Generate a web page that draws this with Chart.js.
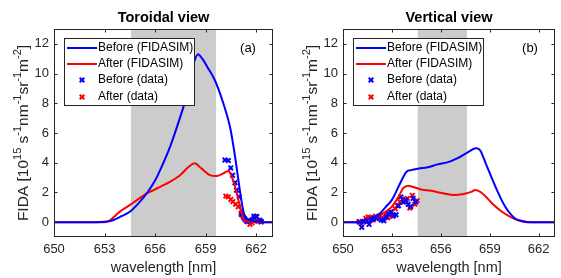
<!DOCTYPE html>
<html>
<head>
<meta charset="utf-8">
<script src="https://cdn.jsdelivr.net/npm/chart.js@4"></script>
<style>
  html, body { margin: 0; padding: 0; background: #fff; }
  #wrap { position: relative; width: 561px; height: 278px; overflow: hidden; }
  canvas { position: absolute; top: 0; }
</style>
</head>
<body>
<div id="wrap">
  <canvas id="cA" width="281" height="278" style="left:0px"></canvas>
  <canvas id="cB" width="280" height="278" style="left:281px"></canvas>
</div>
<script>
// ---------- data ----------
const seriesNames = ['Before (FIDASIM)', 'After (FIDASIM)', 'Before (data)', 'After (data)'];
const panelTitles = ['Toroidal view', 'Vertical view'];
const panelTags = ['(a)', '(b)'];
const xLabel = 'wavelength [nm]';
const xTicks = [650, 653, 656, 659, 662];
const yTicks = [0, 2, 4, 6, 8, 10, 12];
const grayBandA = [654.57, 659.62];
const grayBandB = [654.58, 657.6];

// Toroidal view (a)
const torBeforeSimWl  = [650, 652.5, 653.0, 653.5, 654.0, 654.5, 655.0, 655.5, 656.0, 656.3, 656.9, 657.5, 657.8, 658.2, 658.55, 658.8, 659.1, 659.55, 660.05, 660.45, 660.75, 660.95, 661.15, 661.3, 661.6, 662.0, 662.5, 663];
const torBeforeSimVal = [0, 0, 0.02, 0.13, 0.4, 0.7, 1.25, 1.93, 2.8, 3.5, 5.1, 7.1, 8.2, 10.3, 11.3, 11.0, 10.45, 9.55, 8.0, 6.4, 4.4, 2.8, 1.28, 0.47, 0.13, 0.05, 0, 0];
const torAfterSimWl   = [650, 653.0, 653.3, 653.6, 653.9, 654.5, 655.0, 655.5, 656.0, 656.3, 656.9, 657.5, 658.0, 658.35, 658.75, 659.25, 659.65, 660.05, 660.35, 660.55, 660.75, 660.95, 661.15, 661.35, 661.6, 662.0, 663];
const torAfterSimVal  = [0, 0, 0.1, 0.4, 0.7, 1.15, 1.55, 1.93, 2.2, 2.38, 2.72, 3.17, 3.73, 3.96, 3.62, 3.17, 3.1, 3.28, 3.44, 3.06, 2.38, 1.48, 0.6, 0.13, 0.02, 0, 0];
const torBeforeDataWl  = [660.15, 660.35, 660.49, 660.6, 660.74, 660.84, 661.0, 661.14, 661.3, 661.45, 661.6, 661.75, 661.87, 662.03, 662.2, 662.3];
const torBeforeDataVal = [4.18, 4.15, 3.65, 3.15, 2.65, 2.15, 1.7, 0.5, 0.25, 0.05, 0.1, 0.15, 0.4, 0.36, 0.1, 0.05];
const torAfterDataWl   = [660.2, 660.35, 660.5, 660.62, 660.78, 660.94, 661.1, 661.23, 661.37, 661.5, 661.63, 661.75, 661.87, 662.0, 662.1, 662.2, 662.3];
const torAfterDataVal  = [1.75, 1.7, 1.53, 1.38, 1.21, 1.03, 0.6, 0.36, 0.13, 0.02, -0.15, -0.05, 0.25, 0.4, 0.05, 0.15, 0.0];

// Vertical view (b)
const verBeforeSimWl  = [650, 651.5, 651.8, 652.2, 652.6, 653.0, 653.5, 653.9, 654.2, 654.6, 655.2, 655.8, 656.4, 657.0, 657.6, 658.15, 658.4, 658.75, 659.35, 659.95, 660.55, 661.1, 661.5, 663];
const verBeforeSimVal = [0, 0, 0.05, 0.5, 1.0, 1.5, 2.6, 3.4, 3.5, 3.6, 3.69, 3.89, 4.02, 4.29, 4.67, 4.97, 4.85, 3.96, 2.38, 1.03, 0.25, 0.05, 0, 0];
const verAfterSimWl   = [650, 651.5, 651.8, 652.2, 652.6, 653.0, 653.4, 653.7, 654.0, 654.2, 654.8, 655.4, 656.2, 656.8, 657.4, 657.9, 658.1, 658.55, 659.15, 659.75, 660.35, 660.9, 661.3, 663];
const verAfterSimVal  = [0, 0, 0.05, 0.4, 0.7, 1.05, 1.7, 2.3, 2.45, 2.4, 2.2, 2.11, 1.93, 1.83, 1.9, 2.05, 2.16, 1.93, 1.26, 0.7, 0.31, 0.08, 0, 0];
const verBeforeDataWl  = [651.0, 651.15, 651.3, 651.45, 651.6, 651.75, 651.9, 652.05, 652.2, 652.35, 652.5, 652.65, 652.8, 652.95, 653.1, 653.25, 653.4, 653.55, 653.7, 653.85, 654.0, 654.15, 654.3, 654.45];
const verBeforeDataVal = [0.0, -0.35, 0.05, 0.1, -0.15, 0.2, 0.3, 0.25, 0.35, 0.15, 0.1, 0.35, 0.55, 0.7, 0.45, 0.5, 1.1, 1.7, 1.35, 1.5, 1.2, 1.05, 1.6, 1.35];
const verAfterDataWl   = [651.0, 651.1, 651.25, 651.4, 651.55, 651.7, 651.85, 652.0, 652.15, 652.3, 652.45, 652.6, 652.75, 652.9, 653.05, 653.2, 653.35, 653.5, 653.65, 653.8, 653.95, 654.1, 654.25, 654.4, 654.55];
const verAfterDataVal  = [0.05, -0.1, 0.0, 0.25, 0.35, 0.3, 0.15, 0.4, 0.3, 0.45, 0.25, 0.5, 0.3, 0.65, 0.4, 0.9, 1.1, 1.35, 1.55, 1.4, 1.6, 0.95, 1.8, 1.2, 1.45];

// ---------- styling ----------
const FONT = "'Liberation Sans', Arial, sans-serif";
const AXC = '#262626';
const BLUE = '#0000ff';
const RED = '#ff0000';
const GRAY = '#cccccc';

const pts = (xs, ys) => xs.map((x, i) => ({ x: x, y: ys[i] }));

function lineDs(label, xs, ys, color) {
  return { label, data: pts(xs, ys), showLine: true, borderColor: color, backgroundColor: color,
           borderWidth: 2, pointRadius: 0, cubicInterpolationMode: 'monotone' };
}
function markDs(label, xs, ys, color) {
  return { label, data: pts(xs, ys), showLine: false, borderColor: color, backgroundColor: color,
           borderWidth: 2, pointStyle: 'crossRot', pointRadius: 3.2 };
}

const panelPlugin = {
  id: 'panelPlugin',
  beforeDatasetsDraw(chart) {
    const o = chart.options.plugins.panelPlugin;
    const { ctx, chartArea: a, scales: { x } } = chart;
    const x0 = x.getPixelForValue(o.band[0]), x1 = x.getPixelForValue(o.band[1]);
    ctx.save();
    ctx.fillStyle = GRAY;
    ctx.fillRect(x0, a.top, x1 - x0, a.bottom - a.top);
    ctx.restore();
  },
  afterDatasetsDraw(chart) {
    const o = chart.options.plugins.panelPlugin;
    const { ctx, chartArea: a, scales: { x, y } } = chart;
    const L = Math.round(a.left) + 0.5, R = Math.round(a.right) - 0.5;
    const T = Math.round(a.top) + 0.5, B = Math.round(a.bottom) - 0.5;
    ctx.save();
    ctx.strokeStyle = AXC;
    ctx.lineWidth = 1;
    ctx.strokeRect(L, T, R - L, B - T);
    ctx.beginPath();
    xTicks.forEach(v => {
      const px = Math.round(x.getPixelForValue(v)) + 0.5;
      ctx.moveTo(px, B); ctx.lineTo(px, B - 3);
      ctx.moveTo(px, T); ctx.lineTo(px, T + 3);
    });
    yTicks.forEach(v => {
      const py = Math.round(y.getPixelForValue(v)) + 0.5;
      ctx.moveTo(L, py); ctx.lineTo(L + 3, py);
      ctx.moveTo(R, py); ctx.lineTo(R - 3, py);
    });
    ctx.stroke();
    ctx.restore();
  },
  afterDraw(chart) {
    const o = chart.options.plugins.panelPlugin;
    const { ctx, chartArea: a } = chart;
    const cx = (a.left + a.right) / 2;
    ctx.save();
    // title
    ctx.fillStyle = '#000';
    ctx.textAlign = 'center';
    ctx.textBaseline = 'middle';
    ctx.font = 'bold 14.5px ' + FONT;
    ctx.fillText(o.title, cx, 18);
    // x label
    ctx.fillStyle = AXC;
    ctx.font = '14.5px ' + FONT;
    ctx.fillText(xLabel, cx, 268);
    // tag
    ctx.fillStyle = '#000';
    ctx.font = '13px ' + FONT;
    ctx.fillText(o.tag, a.right - 25, 48);
    // y label with superscripts
    const segs = [['FIDA [10', 0], ['15', 1], [' s', 0], ['-1', 1], ['nm', 0], ['-1', 1], ['sr', 0], ['-1', 1], ['m', 0], ['-2', 1], [']', 0]];
    const fMain = '15.5px ' + FONT, fSup = '11px ' + FONT;
    let total = 0;
    segs.forEach(s => { ctx.font = s[1] ? fSup : fMain; total += ctx.measureText(s[0]).width; });
    ctx.translate(a.left - 30, (a.top + a.bottom) / 2);
    ctx.rotate(-Math.PI / 2);
    ctx.textAlign = 'left';
    ctx.fillStyle = AXC;
    let px = -total / 2;
    segs.forEach(s => {
      ctx.font = s[1] ? fSup : fMain;
      ctx.fillText(s[0], px, s[1] ? -6 : 0);
      px += ctx.measureText(s[0]).width;
    });
    ctx.restore();

    // legend
    ctx.save();
    const lx = a.left + 10, ly = 38, lw = 130, lh = 67;
    ctx.fillStyle = '#fff';
    ctx.fillRect(lx, ly, lw, lh);
    ctx.strokeStyle = AXC;
    ctx.lineWidth = 1;
    ctx.strokeRect(Math.round(lx) + 0.5, ly + 0.5, lw, lh);
    const rowsY = [48, 64, 80, 97];
    const cols = [BLUE, RED, BLUE, RED];
    ctx.font = '12px ' + FONT;
    ctx.textBaseline = 'middle';
    ctx.textAlign = 'left';
    seriesNames.forEach((name, i) => {
      const yy = rowsY[i];
      ctx.strokeStyle = cols[i];
      ctx.lineWidth = 2;
      if (i < 2) {
        ctx.beginPath(); ctx.moveTo(lx + 3, yy); ctx.lineTo(lx + 33, yy); ctx.stroke();
      } else {
        const mx = lx + 18, r = 2.3;
        ctx.beginPath();
        ctx.moveTo(mx - r, yy - r); ctx.lineTo(mx + r, yy + r);
        ctx.moveTo(mx - r, yy + r); ctx.lineTo(mx + r, yy - r);
        ctx.stroke();
      }
      ctx.fillStyle = '#000';
      ctx.fillText(name, lx + 34, yy);
    });
    ctx.restore();
  }
};

function makeChart(id, datasets, yWidth, padRight, title, tag, band) {
  return new Chart(document.getElementById(id), {
    type: 'scatter',
    data: { datasets },
    options: {
      responsive: false,
      animation: false,
      devicePixelRatio: 1,
      layout: { padding: { left: 0, right: padRight, top: 29, bottom: 0 } },
      plugins: {
        legend: { display: false },
        tooltip: { enabled: false },
        title: { display: false },
        panelPlugin: { title, tag, band }
      },
      scales: {
        x: {
          type: 'linear', min: 650, max: 663,
          afterBuildTicks: s => { s.ticks = xTicks.map(v => ({ value: v })); },
          afterFit: s => { s.height = 41; },
          grid: { display: false, drawTicks: false },
          border: { display: false },
          ticks: { font: { family: FONT, size: 13 }, color: AXC, padding: 5, maxRotation: 0, autoSkip: false }
        },
        y: {
          type: 'linear', min: -1, max: 13,
          afterBuildTicks: s => { s.ticks = yTicks.map(v => ({ value: v })); },
          afterFit: s => { s.width = yWidth; },
          grid: { display: false, drawTicks: false },
          border: { display: false },
          ticks: { font: { family: FONT, size: 13 }, color: AXC, padding: 5, autoSkip: false }
        }
      }
    },
    plugins: [panelPlugin]
  });
}

makeChart('cA', [
  lineDs(seriesNames[0], torBeforeSimWl, torBeforeSimVal, BLUE),
  lineDs(seriesNames[1], torAfterSimWl, torAfterSimVal, RED),
  markDs(seriesNames[2], torBeforeDataWl, torBeforeDataVal, BLUE),
  markDs(seriesNames[3], torAfterDataWl, torAfterDataVal, RED)
], 54, 8, panelTitles[0], panelTags[0], grayBandA);

makeChart('cB', [
  lineDs(seriesNames[0], verBeforeSimWl, verBeforeSimVal, BLUE),
  lineDs(seriesNames[1], verAfterSimWl, verAfterSimVal, RED),
  markDs(seriesNames[2], verBeforeDataWl, verBeforeDataVal, BLUE),
  markDs(seriesNames[3], verAfterDataWl, verAfterDataVal, RED)
], 62, 1, panelTitles[1], panelTags[1], grayBandB);
</script>
</body>
</html>
